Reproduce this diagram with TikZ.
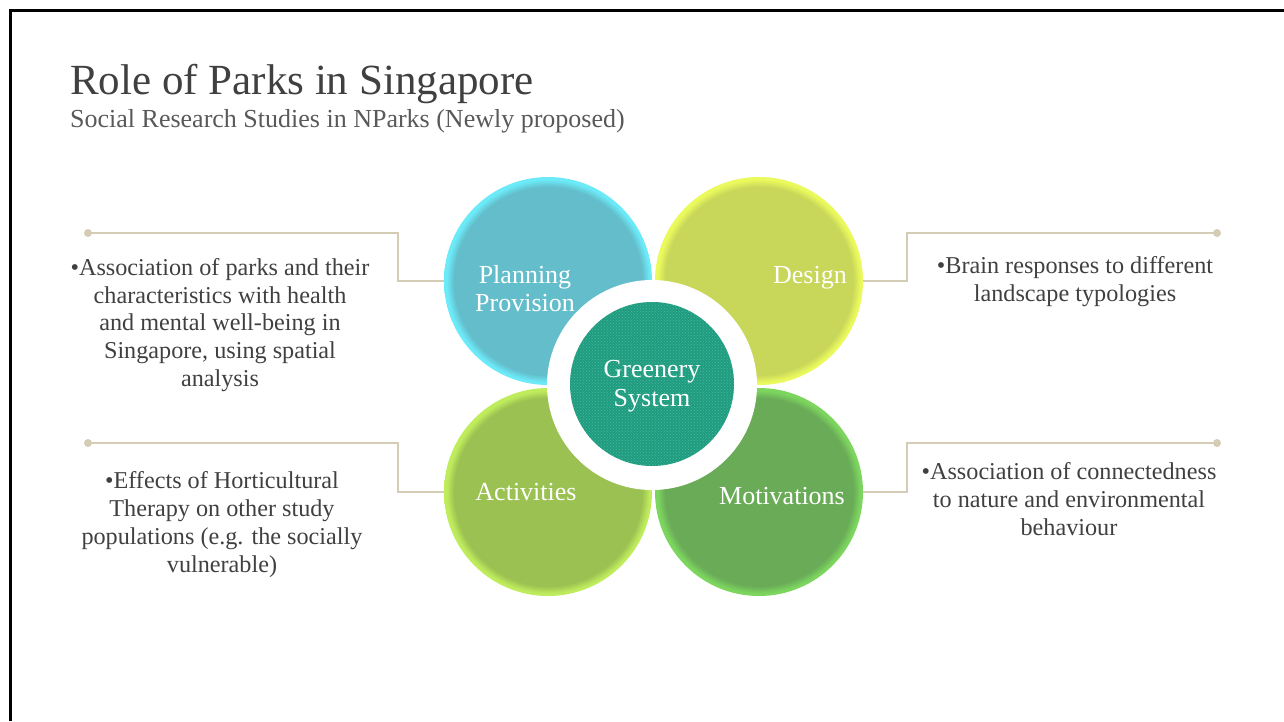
\documentclass[tikz,border=0pt]{standalone}
\usepackage{fontspec}
\setmainfont{Liberation Serif}
\usetikzlibrary{patterns}

\definecolor{txtgray}{HTML}{404040}
\definecolor{subgray}{HTML}{595959}
\definecolor{linktan}{HTML}{D5CCB6}
\definecolor{planmain}{HTML}{63BDCA}
\definecolor{planedge}{HTML}{6CEAF8}
\definecolor{desmain}{HTML}{C8D75A}
\definecolor{desedge}{HTML}{EAF95C}
\definecolor{actmain}{HTML}{9BC152}
\definecolor{actedge}{HTML}{BFEC5C}
\definecolor{motmain}{HTML}{6AAB58}
\definecolor{motedge}{HTML}{7CD65E}
\definecolor{greenteal}{HTML}{1F9C80}
\definecolor{tealdots}{HTML}{4DB89C}

% glowing rim of the four petals
\pgfdeclareradialshading{planglow}{\pgfpoint{0bp}{0bp}}{color(0bp)=(planmain);
  color(22.6bp)=(planmain);color(24.4bp)=(planedge);color(25bp)=(planedge);color(50bp)=(white)}
\pgfdeclareradialshading{desglow}{\pgfpoint{0bp}{0bp}}{color(0bp)=(desmain);
  color(22.6bp)=(desmain);color(24.4bp)=(desedge);color(25bp)=(desedge);color(50bp)=(white)}
\pgfdeclareradialshading{actglow}{\pgfpoint{0bp}{0bp}}{color(0bp)=(actmain);
  color(22.6bp)=(actmain);color(24.4bp)=(actedge);color(25bp)=(actedge);color(50bp)=(white)}
\pgfdeclareradialshading{motglow}{\pgfpoint{0bp}{0bp}}{color(0bp)=(motmain);
  color(22.6bp)=(motmain);color(24.4bp)=(motedge);color(25bp)=(motedge);color(50bp)=(white)}

\tikzset{
  petal/.style={circle, minimum size=208pt, inner sep=0pt, shade, shading=#1},
  petaltext/.style={text=white, inner sep=0pt, align=center, font=\fontsize{26}{28.5}\selectfont},
  bodytext/.style={text=txtgray, inner sep=0pt, align=center, font=\fontsize{24.2}{27.8}\selectfont},
  link/.style={draw=linktan, line width=2.5pt},
  linkdot/.style={fill=linktan}
}

\begin{document}
\begin{tikzpicture}[x=1pt,y=-1pt]  % ------ Role of parks: four petals round the core -------
\useasboundingbox (0,0) rectangle (1284,721);
    \draw[line width=3pt] (10.5,721) -- (10.5,10.5) -- (1284,10.5);  % slide frame

    \node[anchor=base west, inner sep=0pt, text=txtgray, font=\fontsize{43}{43}\selectfont] (title) at (70,94) {Role of Parks in Singapore};
    \node[anchor=base west, inner sep=0pt, text=subgray, font=\fontsize{26}{26}\selectfont] (subtitle) at (70,127) {Social Research Studies in NParks (Newly proposed)};

    \coordinate (dotLT) at (88,233);    \coordinate (bendLT) at (398,233);
    \coordinate (dotLB) at (88,443);    \coordinate (bendLB) at (398,443);
    \coordinate (dotRT) at (1217,233);  \coordinate (bendRT) at (907,233);
    \coordinate (dotRB) at (1217,443);  \coordinate (bendRB) at (907,443);

    \node[petal=planglow] (plan) at (548,281) {};
    \node[petal=desglow]  (design) at (759,281) {};
    \node[petal=actglow]  (act) at (548,492) {};
    \node[petal=motglow]  (motiv) at (759,492) {};

    \node[circle, fill=white, minimum size=210pt, inner sep=0pt] (ring) at (652,385) {};
    \node[circle, minimum size=164pt, inner sep=0pt, preaction={fill=greenteal},
          pattern=crosshatch dots, pattern color=tealdots] (core) at (652,384) {};

    % base = baseline of the last line
    \node[petaltext, anchor=base] (plantxt) at (525,311.7) {Planning\\Provision};
    \node[petaltext, anchor=base] (destxt) at (810,283.3) {Design};
    \node[petaltext, anchor=base] (acttxt) at (526,500) {Activities};
    \node[petaltext, anchor=base] (mottxt) at (782,504.3) {Motivations};
    \node[petaltext, anchor=base] (coretxt) at (652,406) {Greenery\\System};

    % connectors
    \draw[link] (dotLT) -- (bendLT) |- (plan.west);
    \draw[link] (dotLB) -- (bendLB) |- (act.west);
    \draw[link] (dotRT) -- (bendRT) |- (design.east);
    \draw[link] (dotRB) -- (bendRB) |- (motiv.east);
    \foreach \d in {dotLT,dotLB,dotRT,dotRB} \fill[linkdot] (\d) circle (4);

    \node[bodytext, anchor=base] (noteLT) at (220,386.5) {\textbullet Association of parks and their\\characteristics with health\\and mental well-being in\\Singapore, using spatial\\analysis};
    \node[bodytext, anchor=base] (noteLB) at (222,572) {\textbullet Effects of Horticultural\\Therapy on other study\\populations (e.g. the socially\\vulnerable)};
    \node[bodytext, anchor=base] (noteRT) at (1075,301) {\textbullet Brain responses to different\\landscape typologies};
    \node[bodytext, anchor=base] (noteRB) at (1069,535) {\textbullet Association of connectedness\\to nature and environmental\\behaviour};
\end{tikzpicture}
\end{document}
